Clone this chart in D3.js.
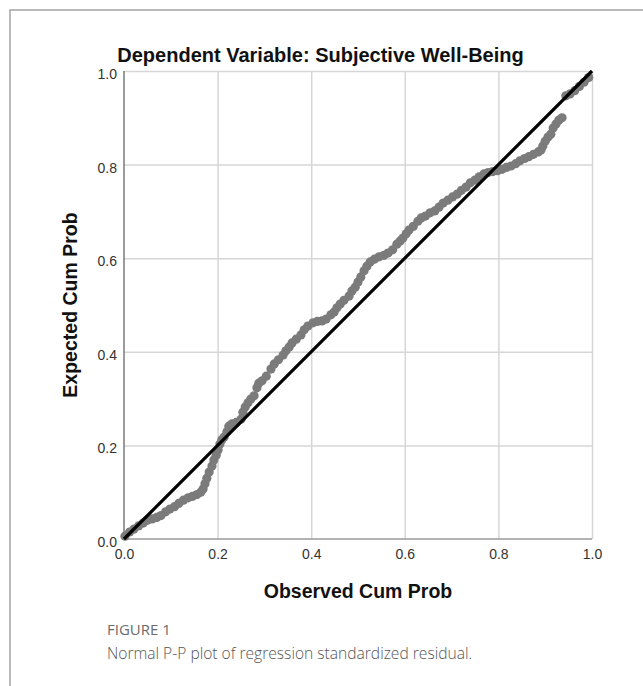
<!DOCTYPE html>
<meta charset="utf-8">
<style>

body {
  margin: 0;
  background: #fff;
}

.tick text {
  font-family: "Liberation Sans", Arial, sans-serif;
  font-size: 14px;
  fill: #333;
}

.grid line {
  stroke: #d6d6d6;
  stroke-width: 1.5px;
}

.grid path {
  display: none;
}

.title, .axis-label {
  font-family: "Liberation Sans", Arial, sans-serif;
  font-weight: bold;
  fill: #111;
}

.caption {
  font-family: "Open Sans", sans-serif;
}

</style>
<svg width="643" height="686"></svg>
<script src="https://d3js.org/d3.v7.min.js"></script>
<script>

// observed cum prob (x) / expected cum prob (y)
var observed = [0.002,0.012,0.021,0.031,0.041,0.050,0.060,0.070,0.079,0.089,0.098,0.108,0.117,0.127,0.137,0.146,
  0.156,0.164,0.169,0.173,0.177,0.182,0.188,0.192,0.197,0.201,0.205,0.209,0.214,0.220,0.224,0.231,0.240,0.250,
  0.254,0.259,0.265,0.271,0.278,0.284,0.288,0.295,0.304,0.314,0.321,0.330,0.340,0.346,0.353,0.359,0.368,0.378,
  0.385,0.393,0.404,0.413,0.423,0.432,0.442,0.449,0.455,0.462,0.470,0.481,0.487,0.494,0.500,0.506,0.513,0.519,
  0.526,0.535,0.545,0.555,0.564,0.574,0.583,0.590,0.596,0.603,0.609,0.618,0.628,0.635,0.644,0.654,0.664,0.673,
  0.682,0.692,0.702,0.712,0.721,0.731,0.740,0.750,0.759,0.769,0.778,0.788,0.798,0.808,0.817,0.827,0.837,0.846,
  0.856,0.865,0.875,0.885,0.891,0.895,0.900,0.906,0.912,0.917,0.923,0.929,0.936,0.944,0.953,0.963,0.973,0.983,0.993];

var expected = [0.006,0.015,0.021,0.028,0.034,0.040,0.043,0.046,0.050,0.058,0.064,0.069,0.076,0.083,0.088,0.091,
  0.095,0.100,0.107,0.118,0.130,0.143,0.156,0.169,0.179,0.190,0.203,0.212,0.218,0.229,0.241,0.246,0.249,0.256,
  0.271,0.282,0.291,0.299,0.306,0.323,0.333,0.338,0.348,0.363,0.374,0.383,0.393,0.402,0.410,0.419,0.427,0.436,
  0.447,0.455,0.462,0.465,0.466,0.470,0.479,0.485,0.494,0.502,0.510,0.519,0.530,0.538,0.549,0.560,0.573,0.583,
  0.592,0.598,0.603,0.606,0.611,0.618,0.630,0.637,0.643,0.652,0.660,0.668,0.679,0.686,0.690,0.697,0.701,0.709,
  0.718,0.724,0.731,0.737,0.745,0.752,0.761,0.767,0.774,0.780,0.783,0.785,0.787,0.790,0.794,0.797,0.802,0.808,
  0.813,0.817,0.822,0.827,0.831,0.840,0.850,0.859,0.865,0.878,0.887,0.895,0.900,0.947,0.951,0.958,0.967,0.976,0.986];

var ticks = [0.0, 0.2, 0.4, 0.6, 0.8, 1.0];

var svg = d3.select("svg");

var x = d3.scaleLinear().domain([0, 1]).range([124, 592]),
    y = d3.scaleLinear().domain([0, 1]).range([539, 71]);

// frame round the figure
svg.append("path")
    .attr("d", "M10,686V10H643")
    .attr("fill", "none")
    .attr("stroke", "#a3a3a3")
    .attr("stroke-width", 1.5);

// grid
svg.append("g")
    .attr("class", "grid")
    .attr("transform", "translate(0,539)")
    .call(d3.axisBottom(x).tickValues(ticks.slice(1)).tickSize(-468).tickFormat(""));

svg.append("g")
    .attr("class", "grid")
    .attr("transform", "translate(124,0)")
    .call(d3.axisLeft(y).tickValues(ticks.slice(1)).tickSize(-468).tickFormat(""));

// axes lines
svg.append("line")
    .attr("x1", 124).attr("x2", 124).attr("y1", y(1)).attr("y2", y(0))
    .attr("stroke", "#7a7a7a").attr("stroke-width", 1.5);
svg.append("line")
    .attr("x1", 124).attr("x2", x(1)).attr("y1", 539).attr("y2", 539)
    .attr("stroke", "#9a9a9a").attr("stroke-width", 1.5);

// tick labels
var xAxis = svg.append("g")
    .attr("transform", "translate(0,539)")
    .call(d3.axisBottom(x).tickValues(ticks).tickSize(0).tickPadding(0).tickFormat(d3.format(".1f")));
xAxis.select(".domain").remove();
xAxis.selectAll("text").attr("dy", null).attr("y", 20);

var yAxis = svg.append("g")
    .attr("transform", "translate(117,0)")
    .call(d3.axisLeft(y).tickValues(ticks).tickSize(0).tickPadding(0).tickFormat(d3.format(".1f")));
yAxis.select(".domain").remove();
yAxis.selectAll("text").attr("dy", null).attr("y", 7.5);

// points
var pts = observed.map(function(d, i) { return {x: d, y: expected[i]}; });

svg.append("g")
  .selectAll("circle")
  .data(pts)
  .enter().append("circle")
    .attr("cx", function(d) { return x(d.x); })
    .attr("cy", function(d) { return y(d.y); })
    .attr("r", 4.6)
    .attr("fill", "#7b7b7b");

// reference line
svg.append("line")
    .attr("x1", x(0)).attr("y1", y(0))
    .attr("x2", x(1)).attr("y2", y(1))
    .attr("stroke", "#000")
    .attr("stroke-width", 3.2);

// titles
svg.append("text")
    .attr("class", "title")
    .attr("x", 320.5)
    .attr("y", 62)
    .attr("text-anchor", "middle")
    .style("font-size", "20px")
    .text("Dependent Variable: Subjective Well-Being");

svg.append("text")
    .attr("class", "axis-label")
    .attr("x", 358)
    .attr("y", 598)
    .attr("text-anchor", "middle")
    .style("font-size", "19.5px")
    .text("Observed Cum Prob");

svg.append("text")
    .attr("class", "axis-label")
    .attr("transform", "translate(77,305)rotate(-90)")
    .attr("text-anchor", "middle")
    .style("font-size", "19.5px")
    .text("Expected Cum Prob");

// caption
svg.append("text")
    .attr("class", "caption")
    .attr("x", 107)
    .attr("y", 635)
    .style("font-size", "15px")
    .style("font-weight", 500)
    .attr("fill", "#6b6b6b")
    .text("FIGURE 1");

svg.append("text")
    .attr("class", "caption")
    .attr("x", 107)
    .attr("y", 659)
    .style("font-size", "15.6px")
    .style("font-weight", 300)
    .attr("fill", "#555")
    .text("Normal P-P plot of regression standardized residual.");

</script>
